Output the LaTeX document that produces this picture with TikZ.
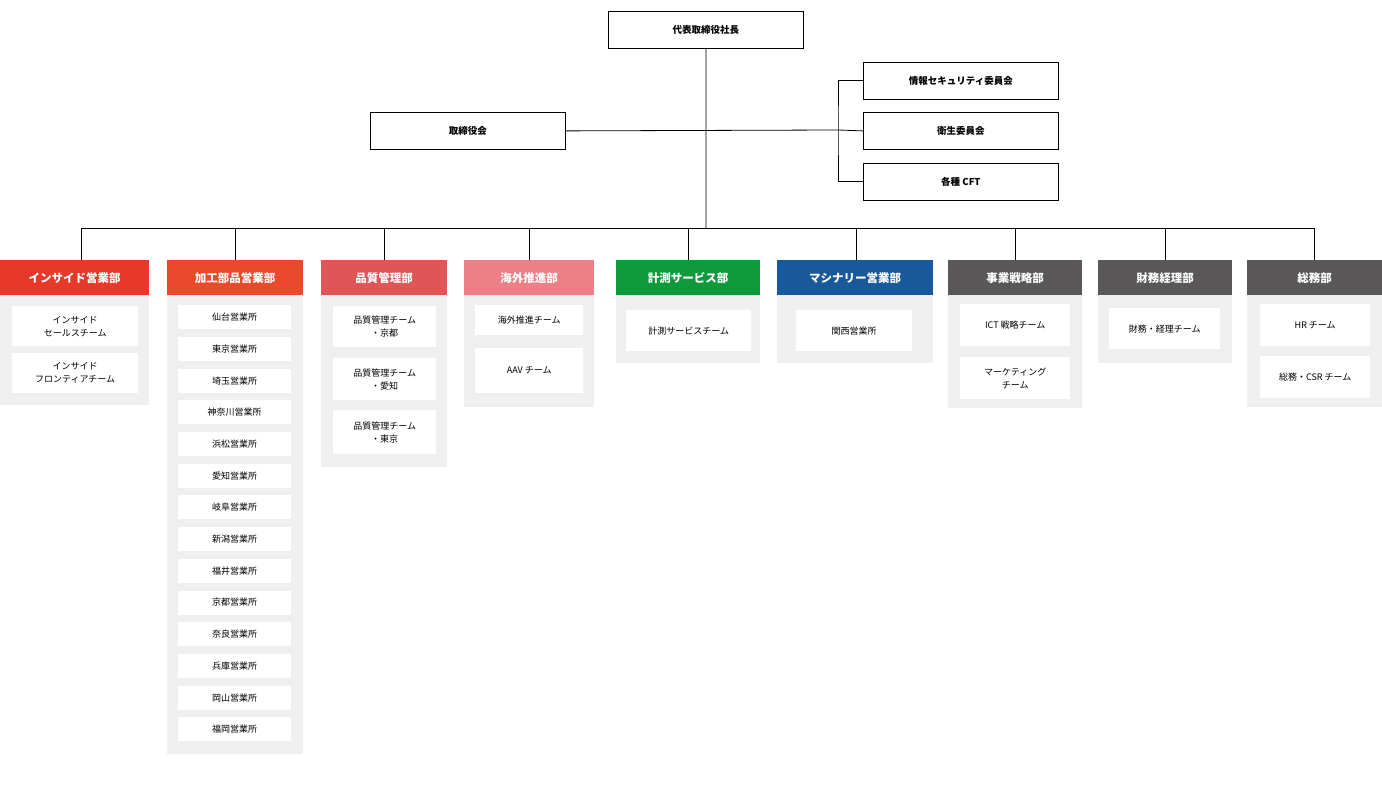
\documentclass[tikz,border=0pt]{standalone}
\usepackage{fontspec}
\setmainfont{Noto Sans CJK JP}
\definecolor{redA}{HTML}{E8382A}
\definecolor{redB}{HTML}{EA4A2C}
\definecolor{redC}{HTML}{E05555}
\definecolor{pinkD}{HTML}{EF7F86}
\definecolor{greenE}{HTML}{0F993B}
\definecolor{blueF}{HTML}{17599B}
\definecolor{grayG}{HTML}{595757}
\definecolor{panel}{HTML}{EFEFEF}
\tikzset{
  top/.style={draw, thick, line width=0.8pt, minimum height=37pt, font=\fontsize{9.5}{11}\selectfont\bfseries, anchor=north west, inner sep=0pt},
  hdr/.style={text=white, minimum height=35pt, font=\fontsize{11.5}{13}\selectfont\bfseries, anchor=north west, inner sep=0pt},
  item/.style={fill=white, align=center, font=\fontsize{9}{13}\selectfont, anchor=north west, inner sep=0pt},
  link/.style={line width=0.8pt}
}
% header, panel bottom
\newcommand{\dept}[7]{%
  \fill[panel] (#2,295) rectangle (#2+#3,#6);
  \node[hdr, fill=#4, minimum width=#3pt] (#1) at (#2,260) {#5};
  \coordinate (#1d) at (#7,260);
}
\begin{document}
\begin{tikzpicture}[x=1pt,y=-1pt]
\useasboundingbox (0,0) rectangle (1382,810);
\node[top, minimum width=195pt] (ceo) at (608,11) {代表取締役社長};
\node[top, minimum width=195pt] (board) at (370,112) {取締役会};
\node[top, minimum width=195pt] (sec) at (863,62) {情報セキュリティ委員会};
\node[top, minimum width=195pt] (hyg) at (863,112) {衛生委員会};
\node[top, minimum width=195pt] (cft) at (863,163) {各種 CFT};
\coordinate (bus) at (706,228);
\coordinate (br) at (838,130);
\draw[link] (ceo.south) -- (bus);
\draw[link] (board.east) -- (br);
\draw[link] (sec.west) -| (br) |- (cft.west);
\draw[link] (br) -- (hyg.west);

\dept{d1}{0}{149}{redA}{インサイド営業部}{405}{81}
\dept{d2}{167}{136}{redB}{加工部品営業部}{754}{235}
\dept{d3}{321}{126}{redC}{品質管理部}{467}{384}
\dept{d4}{464}{130}{pinkD}{海外推進部}{407}{529}
\dept{d5}{616}{144}{greenE}{計測サービス部}{363}{688}
\dept{d6}{777}{156}{blueF}{マシナリー営業部}{363}{856}
\dept{d7}{948}{134}{grayG}{事業戦略部}{408}{1015}
\dept{d8}{1098}{134}{grayG}{財務経理部}{363}{1165}
\dept{d9}{1247}{135}{grayG}{総務部}{407}{1314}
\foreach \d in {d1,d2,d3,d4,d5,d6,d7,d8,d9}
  \draw[link] (bus) -| (\d d);

% items
\node[item, minimum width=126pt, minimum height=40pt] (i11) at (12,306) {インサイド\\セールスチーム};
\node[item, minimum width=126pt, minimum height=40pt] (i12) at (12,353) {インサイド\\フロンティアチーム};
\foreach \t [count=\k from 0] in {仙台営業所,東京営業所,埼玉営業所,神奈川営業所,浜松営業所,愛知営業所,岐阜営業所,新潟営業所,福井営業所,京都営業所,奈良営業所,兵庫営業所,岡山営業所,福岡営業所}
  \node[item, minimum width=113pt, minimum height=24pt] (i2\k) at (178,305+31.7*\k) {\t};
\node[item, minimum width=103pt, minimum height=41pt] (i31) at (333,306) {品質管理チーム\\・京都};
\node[item, minimum width=103pt, minimum height=42pt] (i32) at (333,358) {品質管理チーム\\・愛知};
\node[item, minimum width=103pt, minimum height=44pt] (i33) at (333,410) {品質管理チーム\\・東京};
\node[item, minimum width=108pt, minimum height=30pt] (i41) at (475,305) {海外推進チーム};
\node[item, minimum width=108pt, minimum height=45pt] (i42) at (475,348) {AAV チーム};
\node[item, minimum width=125pt, minimum height=41pt] (i51) at (626,310) {計測サービスチーム};
\node[item, minimum width=116pt, minimum height=41pt] (i61) at (796,310) {関西営業所};
\node[item, minimum width=110pt, minimum height=42pt] (i71) at (960,304) {ICT 戦略チーム};
\node[item, minimum width=110pt, minimum height=42pt] (i72) at (960,357) {マーケティング\\チーム};
\node[item, minimum width=111pt, minimum height=41pt] (i81) at (1109,308) {財務・経理チーム};
\node[item, minimum width=110pt, minimum height=42pt] (i91) at (1260,304) {HR チーム};
\node[item, minimum width=110pt, minimum height=42pt] (i92) at (1260,356) {総務・CSR チーム};
\end{tikzpicture}
\end{document}
